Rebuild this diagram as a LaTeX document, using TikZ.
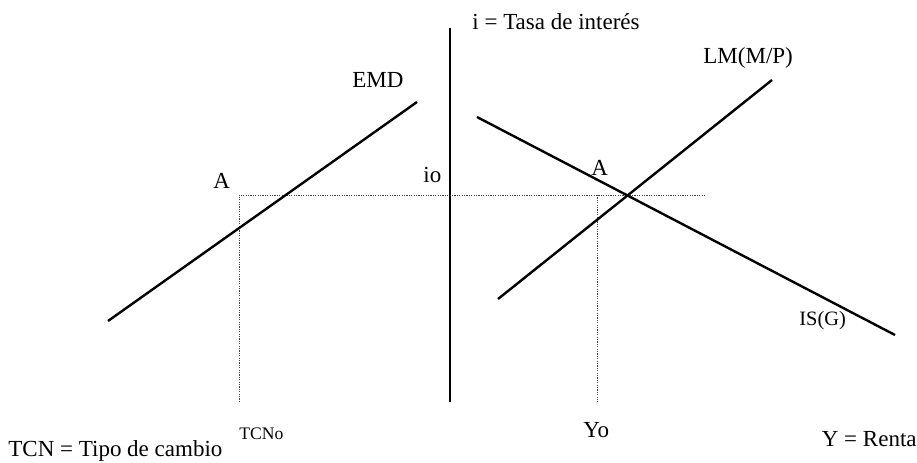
\documentclass[tikz,border=0pt]{standalone}
\usepackage{fontspec}
\setmainfont{Liberation Serif}
\usetikzlibrary{positioning}

\begin{document}
\begin{tikzpicture}[x=0.5pt,y=0.5pt,
    lbl/.style={inner sep=0pt,anchor=base west,
                font=\fontsize{11.5}{13}\selectfont},
    small/.style={lbl,font=\fontsize{8.8}{10}\selectfont},
    axis/.style={line width=1pt},
    curve/.style={line width=1.2pt},
    guide/.style={line width=0.5pt,black!75,dash pattern=on 0.6pt off 0.6pt}]
    \useasboundingbox (0,0) rectangle (917,462);

    % axis
    \coordinate (itop) at (450,434);
    \coordinate (ibot) at (450,60);
    \draw[axis] (itop)--(ibot);
    \node[lbl] (ilab) at (472,433) {i = Tasa de inter\'es};

    % equilibrium and guides
    \coordinate (eq) at (628,267);
    \coordinate (gleft) at (239,267);
    \coordinate (gright) at (705,267);
    \coordinate (tcnbot) at (239,60);
    \coordinate (ytop) at (597,267);
    \coordinate (ybot) at (597,60);
    \draw[guide] (tcnbot)--(gleft)--(gright);
    \draw[guide] (ytop)--(ybot);

    % curves
    \coordinate (emd0) at (108,141);
    \coordinate (emd1) at (417,360);
    \coordinate (is0) at (477,345);
    \coordinate (is1) at (895,127);
    \coordinate (lm0) at (498,163);
    \coordinate (lm1) at (772,382);
    \draw[curve] (emd0)--(emd1);
    \draw[curve] (is0)--(is1);
    \draw[curve] (lm0)--(lm1);

    % labels
    \node[lbl] (emd) at (352,375) {EMD};
    \node[lbl] (aleft) at (213,274) {A};
    \node[lbl] (io) at (423,280) {io};
    \node[lbl] (aright) at (591,287) {A};
    \node[lbl] (lm) at (703,399) {LM(M/P)};
    \node[lbl,font=\fontsize{10.2}{12}\selectfont] (is) at (799,137) {IS(G)};
    \node[lbl,anchor=base east] (yren) at (917,16) {Y = Renta};
    \node[lbl] (tcn) at (8,6) {TCN = Tipo de cambio};
    \node[small] (tcno) at (239,23) {TCNo};
    \node[lbl] (yo) at (583,25) {Yo};
\end{tikzpicture}
\end{document}
